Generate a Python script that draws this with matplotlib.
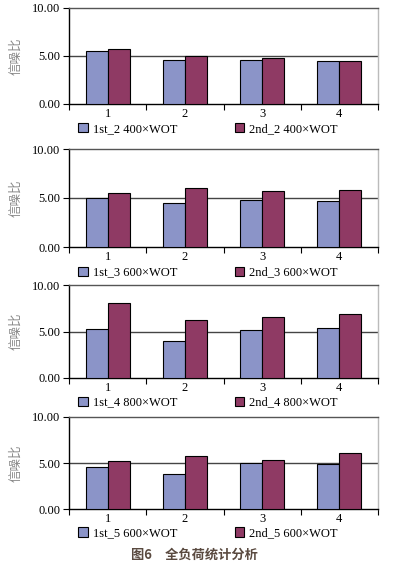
import numpy as np
import matplotlib
matplotlib.use("Agg")
import matplotlib.pyplot as plt

plt.rcParams['font.family'] = ['Liberation Serif', 'Noto Sans CJK SC']

# data
categories = ['1', '2', '3', '4']
first_2 = [5.52, 4.60, 4.55, 4.51]
second_2 = [5.76, 5.03, 4.76, 4.49]
first_3 = [5.00, 4.47, 4.78, 4.74]
second_3 = [5.53, 6.04, 5.70, 5.80]
first_4 = [5.27, 4.01, 5.20, 5.38]
second_4 = [8.06, 6.24, 6.60, 6.88]
first_5 = [4.60, 3.83, 5.00, 4.93]
second_5 = [5.22, 5.80, 5.33, 6.09]
labels_first = ['1st_2 400×WOT', '1st_3 600×WOT', '1st_4 800×WOT', '1st_5 600×WOT']
labels_second = ['2nd_2 400×WOT', '2nd_3 600×WOT', '2nd_4 800×WOT', '2nd_5 600×WOT']
yticks = [0, 5, 10]

W, H = 397, 566
fig = plt.figure(figsize=(W / 100, H / 100), dpi=100)

# pixel boxes (top, bottom) for each panel
rows = [(8, 104), (149, 247), (285, 378), (417, 509)]
left_px, right_px = 69, 378
c1 = '#8B94C8'
c2 = '#8F3A64'
panels = [(first_2, second_2), (first_3, second_3), (first_4, second_4), (first_5, second_5)]

x = np.arange(len(categories))
bw = 0.286
for i, ((top, bot), (a, b)) in enumerate(zip(rows, panels)):
    ax = fig.add_axes([left_px / W, 1 - bot / H, (right_px - left_px) / W, (bot - top) / H])
    ax.bar(x - bw / 2, a, bw, color=c1, edgecolor='black', linewidth=0.8, label=labels_first[i], zorder=3)
    ax.bar(x + bw / 2, b, bw, color=c2, edgecolor='black', linewidth=0.8, label=labels_second[i], zorder=3)
    ax.set_xlim(-0.5, 3.5)
    ax.set_ylim(0, 10)
    ax.set_yticks(yticks)
    ax.set_yticklabels(['%.2f' % v for v in yticks], fontsize=9)
    ax.axhline(5, color='#444444', linewidth=1.0, zorder=1)
    ax.set_xticks(np.arange(-0.5, 4, 1))
    ax.set_xticklabels([])
    ax.set_xticks(x, minor=True)
    ax.set_xticklabels(categories, minor=True, fontsize=9)
    ax.tick_params(axis='x', which='minor', length=0, pad=3)
    ax.tick_params(axis='x', which='major', length=4, width=0.8, direction='out')
    ax.tick_params(axis='y', length=4, width=0.8, direction='out', pad=2)
    ax.spines['left'].set_color('black')
    ax.spines['bottom'].set_color('black')
    ax.spines['top'].set_color('#555555')
    ax.spines['right'].set_color('#bbbbbb')
    for s in ax.spines.values():
        s.set_linewidth(1.0)
    ax.set_ylabel('信噪比', family=['Noto Sans CJK SC'], fontsize=9, color='#888888', labelpad=7)
    ax.legend(loc='upper left', bbox_to_anchor=(0.03, -0.2), ncol=2, frameon=False,
              fontsize=9, handlelength=0.75, handleheight=0.75, handletextpad=0.4,
              columnspacing=4.6, borderpad=0, borderaxespad=0)

fig.text(0.49, 1 - 555 / H, '图6　全负荷统计分析', family=['Noto Sans CJK SC'],
         fontsize=9.5, fontweight='bold', color='#5a4a40', ha='center', va='center')

fig.savefig('out.png', dpi=100)
